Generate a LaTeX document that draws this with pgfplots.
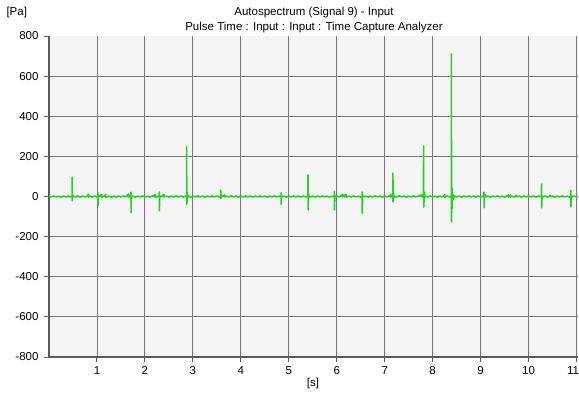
\documentclass[border=0pt]{standalone}
\usepackage{fontspec}
\setmainfont{Liberation Sans}
\usepackage{pgfplots}
\pgfplotsset{compat=1.18}
\definecolor{sig}{RGB}{45,205,45}
\definecolor{bg}{RGB}{244,244,244}
\definecolor{gridc}{RGB}{120,120,120}
\definecolor{axc}{RGB}{90,90,90}
\begin{document}
\begin{tikzpicture}[x=1bp,y=1bp]
\path[use as bounding box] (0,0) rectangle (579,394);
\begin{axis}[
  at={(49bp,37bp)}, anchor=south west,
  scale only axis, width=529bp, height=321bp,
  xmin=0, xmax=11.03, ymin=-800, ymax=800,
  axis x line=bottom, axis y line=left,
  axis line style={-, axc, line width=1.8bp},
  xtick={1,...,11},
  xticklabels={1,2,3,4,5,6,7,8,9,10,\hspace*{-7bp}11},
  ytick={-600,-400,-200,0,200,400,600},
  yticklabels={\mbox{-600},\mbox{-400},\mbox{-200},\mbox{0},\mbox{200},\mbox{400},\mbox{600}},
  extra y ticks={-800,800},
  extra y tick labels={\mbox{-800},\mbox{800}},
  extra y tick style={grid=none},
  grid=major,
  grid style={gridc, line width=0.9bp},
  tick align=outside,
  major tick length=5bp,
  tick style={axc, line width=1bp},
  axis background/.style={fill=bg},
  ticklabel style={font=\fontsize{11.5bp}{13bp}\selectfont},
  yticklabel style={xshift=-2bp},
  xticklabel style={yshift=-1bp},
  /pgf/number format/assume math mode=true,
  clip=true,
]
\addplot[sig, line width=1.6bp, line join=round] table {
0.00 1
0.05 -2
0.10 2
0.15 -2
0.20 1
0.25 -3
0.30 2
0.35 -2
0.40 3
0.45 -2
0.483 0
0.485 96
0.487 -21
0.490 10
0.495 -6
0.50 4
0.55 -2
0.60 3
0.65 -3
0.70 2
0.75 -2
0.80 2
0.82 12
0.822 -3
0.85 2
0.90 -3
0.95 2
1.00 -2
1.018 0
1.020 21
1.022 -46
1.025 8
1.03 -3
1.05 3
1.10 10
1.102 -4
1.15 2
1.18 9
1.182 -3
1.25 2
1.30 -4
1.35 2
1.40 -3
1.45 2
1.50 -2
1.55 3
1.60 -2
1.66 12
1.662 -2
1.70 2
1.708 0
1.710 21
1.712 -81
1.715 6
1.72 -2
1.75 2
1.80 -3
1.85 2
1.90 -2
1.95 3
2.00 -2
2.05 2
2.10 -3
2.15 2
2.22 9
2.222 -3
2.28 2
2.298 0
2.300 22
2.302 -71
2.305 8
2.31 -4
2.35 2
2.40 10
2.402 -2
2.45 2
2.50 -3
2.55 2
2.60 -2
2.65 3
2.70 -2
2.75 2
2.80 -3
2.85 2
2.868 0
2.870 249
2.872 -39
2.878 20
2.880 -30
2.885 10
2.89 -8
2.90 4
2.95 -3
3.00 2
3.05 -2
3.10 3
3.15 -2
3.20 2
3.25 -3
3.30 2
3.35 -2
3.40 3
3.45 -2
3.50 2
3.55 -2
3.578 0
3.580 32
3.582 -9
3.59 12
3.592 -3
3.62 2
3.66 8
3.662 -2
3.70 2
3.75 -2
3.80 3
3.85 -2
3.90 2
3.95 -3
4.00 2
4.05 -2
4.10 3
4.15 -2
4.20 2
4.25 -3
4.30 2
4.35 -2
4.40 3
4.45 -2
4.50 2
4.55 -3
4.60 2
4.65 -2
4.70 3
4.75 -2
4.80 2
4.838 0
4.840 19
4.842 -39
4.845 5
4.85 -2
4.90 2
4.95 -3
5.00 2
5.05 -2
5.10 3
5.15 -2
5.20 2
5.25 -3
5.30 2
5.35 -2
5.398 0
5.400 107
5.402 -67
5.410 15
5.412 -10
5.42 3
5.45 -2
5.50 2
5.55 -3
5.60 2
5.65 -2
5.70 3
5.75 -2
5.80 2
5.85 -3
5.90 2
5.948 0
5.950 24
5.952 -67
5.960 8
5.962 -3
6.00 2
6.05 -2
6.12 10
6.122 -2
6.16 10
6.162 -2
6.20 9
6.202 -3
6.25 2
6.30 -2
6.35 3
6.40 -2
6.45 2
6.50 -3
6.528 0
6.530 22
6.532 -84
6.540 6
6.545 -2
6.60 2
6.65 -3
6.70 2
6.75 -2
6.80 3
6.85 -2
6.90 2
6.95 -3
7.00 2
7.05 -2
7.13 8
7.132 -3
7.168 0
7.170 117
7.172 -26
7.180 80
7.182 -20
7.190 10
7.192 -5
7.20 2
7.25 -2
7.30 3
7.35 -2
7.40 2
7.45 -3
7.50 2
7.55 -2
7.60 3
7.65 -2
7.70 2
7.78 8
7.782 -3
7.808 0
7.810 252
7.812 -54
7.830 20
7.832 -10
7.84 2
7.90 -2
7.95 3
8.00 -2
8.05 2
8.10 -3
8.15 2
8.20 -2
8.25 8
8.252 -3
8.30 2
8.35 -2
8.388 0
8.390 711
8.392 -126
8.400 44
8.402 -60
8.410 40
8.412 -20
8.430 8
8.432 -15
8.45 3
8.50 -2
8.55 2
8.60 -3
8.65 2
8.70 -2
8.75 3
8.80 -2
8.85 2
8.90 -3
8.95 2
9.00 -2
9.05 2
9.068 0
9.070 21
9.072 -56
9.080 8
9.082 -3
9.10 10
9.102 -2
9.15 2
9.20 -3
9.25 2
9.30 -2
9.35 3
9.40 -2
9.45 2
9.50 -3
9.58 8
9.582 -3
9.62 7
9.622 -2
9.65 2
9.70 -3
9.75 6
9.752 -2
9.80 2
9.85 -3
9.90 2
9.95 -2
10.00 3
10.05 -2
10.10 2
10.15 -3
10.20 2
10.268 0
10.270 62
10.272 -56
10.280 3
10.30 -2
10.35 2
10.40 -3
10.45 6
10.452 -2
10.50 2
10.55 -3
10.60 2
10.65 -2
10.70 3
10.75 -2
10.80 2
10.85 -3
10.878 0
10.880 32
10.882 -51
10.890 5
10.90 -2
10.95 2
11.00 -2
11.03 1
};
\end{axis}
\node[font=\fontsize{11.5bp}{13bp}\selectfont] at (314,381) {Autospectrum (Signal 9) - Input};
\node[font=\fontsize{11.5bp}{13bp}\selectfont] at (314,366) {Pulse Time : Input : Input : Time Capture Analyzer};
\node[font=\fontsize{11.5bp}{13bp}\selectfont, anchor=west] at (3,381) {[Pa]};
\node[font=\fontsize{11.5bp}{13bp}\selectfont] at (313,10) {[s]};
\end{tikzpicture}
\end{document}
